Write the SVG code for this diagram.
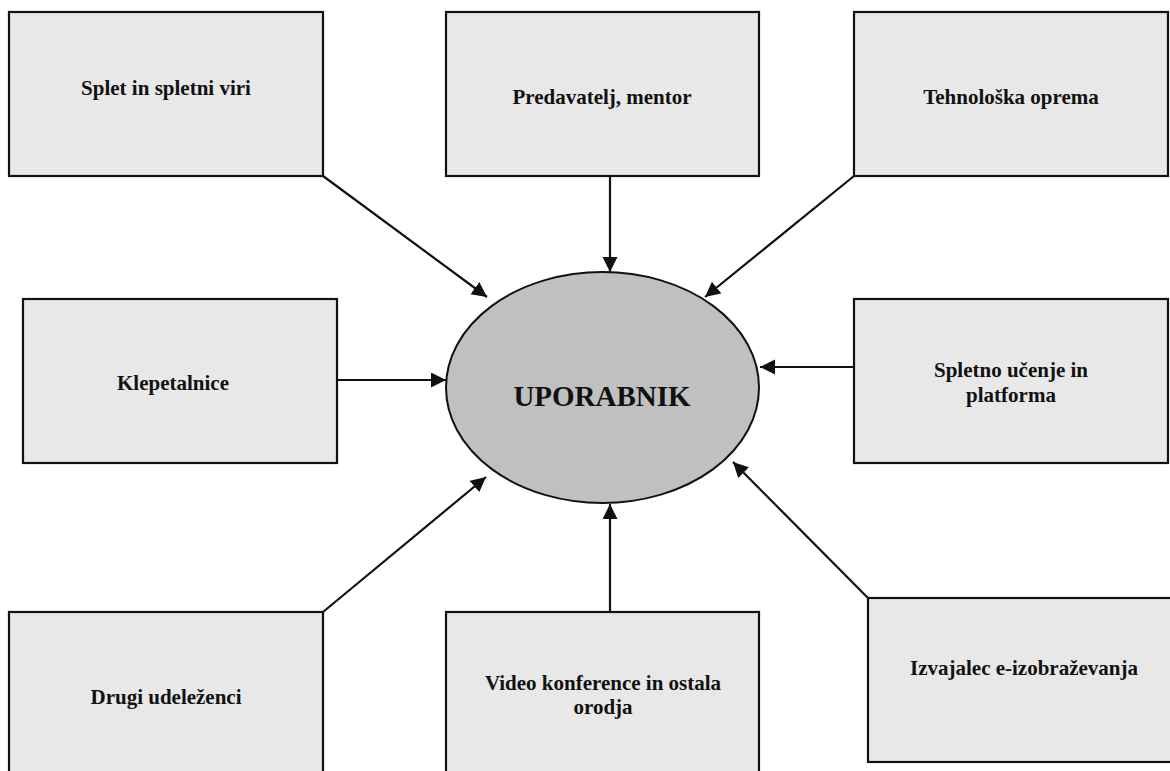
<svg xmlns="http://www.w3.org/2000/svg" width="1170" height="771" viewBox="0 0 1170 771">
<style>
.box{fill:#e8e8e8;stroke:#111;stroke-width:2.2}
.lbl{font-family:"Liberation Serif","Times New Roman",serif;font-weight:bold;font-size:21px;fill:#111;text-anchor:middle}
.con{stroke:#111;stroke-width:2.2;fill:none;marker-end:url(#ah)}
</style>
<defs>
<marker id="ah" markerUnits="userSpaceOnUse" markerWidth="17" markerHeight="16" refX="15" refY="7.5" orient="auto">
<path d="M0,0 L15,7.5 L0,15 z" fill="#111"/>
</marker>
</defs>
<rect width="1170" height="771" fill="#fff"/>
<g id="connectors">
<line class="con" x1="323" y1="176" x2="487" y2="297"/>
<line class="con" x1="610" y1="176" x2="610" y2="272"/>
<line class="con" x1="854" y1="176" x2="705" y2="297"/>
<line class="con" x1="337" y1="380" x2="446" y2="380"/>
<line class="con" x1="854" y1="367" x2="760" y2="367"/>
<line class="con" x1="323" y1="612" x2="486" y2="477"/>
<line class="con" x1="610" y1="612" x2="610" y2="504"/>
<line class="con" x1="868" y1="598" x2="733" y2="462"/>
</g>
<g id="n-splet"><rect class="box" x="9" y="12" width="314" height="164"/><text class="lbl" x="166" y="95">Splet in spletni viri</text></g>
<g id="n-predavatelj"><rect class="box" x="446" y="12" width="313" height="164"/><text class="lbl" x="602" y="104">Predavatelj, mentor</text></g>
<g id="n-tehnoloska"><rect class="box" x="854" y="12" width="314" height="164"/><text class="lbl" x="1011" y="104">Tehnološka oprema</text></g>
<g id="n-klepetalnice"><rect class="box" x="23" y="299" width="314" height="164"/><text class="lbl" x="173" y="390">Klepetalnice</text></g>
<g id="n-spletno"><rect class="box" x="854" y="299" width="314" height="164"/><text class="lbl" x="1011" y="377">Spletno učenje in</text><text class="lbl" x="1011" y="402">platforma</text></g>
<g id="n-drugi"><rect class="box" x="9" y="612" width="314" height="170"/><text class="lbl" x="166" y="704">Drugi udeleženci</text></g>
<g id="n-video"><rect class="box" x="446" y="612" width="313" height="170"/><text class="lbl" x="603" y="690">Video konference in ostala</text><text class="lbl" x="603" y="714">orodja</text></g>
<g id="n-izvajalec"><rect class="box" x="868" y="598" width="306" height="164"/><text class="lbl" x="1024" y="675">Izvajalec e-izobraževanja</text></g>
<g id="n-uporabnik"><ellipse cx="602.5" cy="387.5" rx="156.5" ry="115.5" fill="#c0c0c0" stroke="#111" stroke-width="2"/><text class="lbl" x="602" y="406" style="font-size:29px">UPORABNIK</text></g>
</svg>
